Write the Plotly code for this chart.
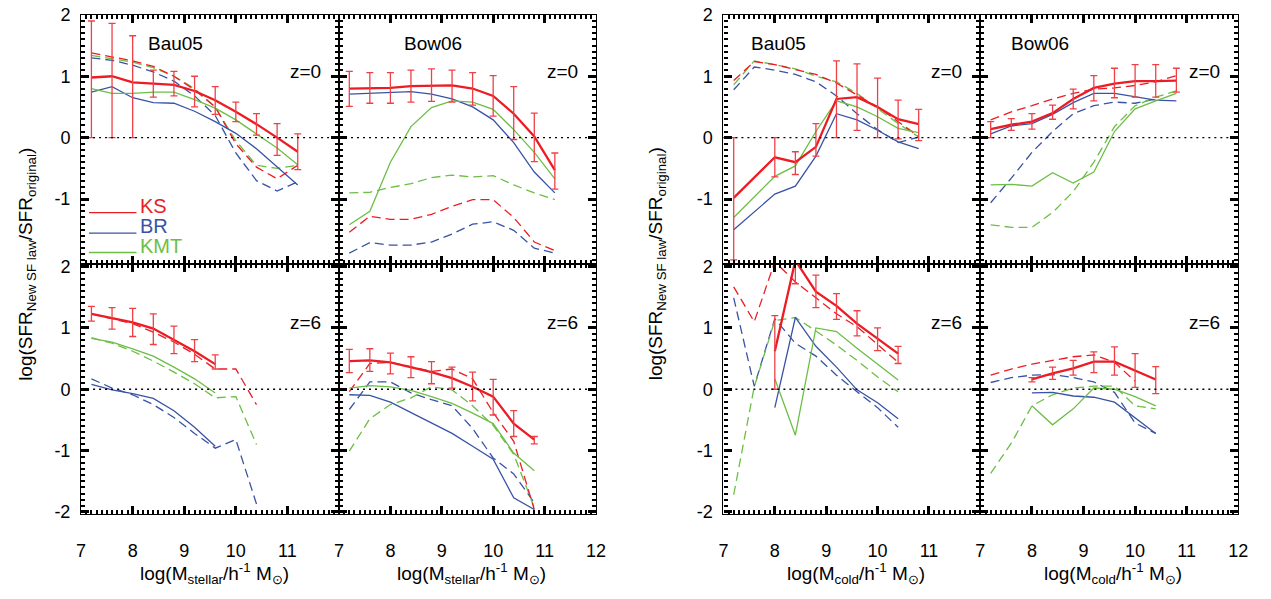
import plotly.graph_objects as go

# ---------------- data ----------------
mass_bins = [7.2, 7.6, 8.0, 8.4, 8.8, 9.2, 9.6, 10.0, 10.4, 10.8, 11.2]
x_ticks = [7, 8, 9, 10, 11, 12]
y_ticks = [-2, -1, 0, 1, 2]

# Panel 1: Bau05, z=0, stellar mass
p1_ks = [0.98, 1.0, 0.9, 0.88, 0.86, 0.76, 0.61, 0.42, 0.22, 0.0, -0.23]
p1_ks_hi = [1.9, 1.86, 1.66, 1.1, 1.08, 1.0, 0.83, 0.58, 0.39, 0.23, 0.06]
p1_ks_lo = [0.0, 0.0, 0.0, 0.66, 0.68, 0.5, 0.38, 0.26, 0.04, -0.29, -0.52]
p1_br = [0.74, 0.83, 0.65, 0.57, 0.56, 0.43, 0.26, 0.07, -0.18, -0.47, -0.77]
p1_kmt = [0.8, 0.72, 0.72, 0.74, 0.74, 0.62, 0.48, 0.29, 0.06, -0.17, -0.44]
p1_ks_d = [1.38, 1.31, 1.25, 1.16, 1.0, 0.78, 0.5, -0.1, -0.48, -0.67, -0.45]
p1_br_d = [1.3, 1.26, 1.18, 1.07, 0.92, 0.68, 0.36, -0.25, -0.7, -0.87, -0.72]
p1_kmt_d = [1.34, 1.28, 1.23, 1.14, 1.0, 0.8, 0.5, -0.05, -0.45, -0.5, -0.45]

# Panel 2: Bow06, z=0, stellar mass
p2_ks = [0.8, 0.81, 0.81, 0.84, 0.85, 0.85, 0.8, 0.68, 0.39, 0.02, -0.53]
p2_ks_hi = [1.08, 1.06, 1.06, 1.1, 1.12, 1.1, 1.06, 1.01, 0.83, 0.4, -0.25]
p2_ks_lo = [0.51, 0.56, 0.56, 0.58, 0.59, 0.58, 0.53, 0.35, -0.03, -0.39, -0.84]
p2_br = [0.71, 0.72, 0.73, 0.75, 0.71, 0.63, 0.5, 0.29, -0.08, -0.56, -0.9]
p2_kmt = [-1.42, -1.2, -0.4, 0.18, 0.49, 0.6, 0.58, 0.46, 0.13, -0.24, -0.67]
p2_ks_d = [-1.54, -1.28, -1.33, -1.33, -1.25, -1.12, -1.01, -1.01, -1.3, -1.7, -1.84]
p2_br_d = [-1.88, -1.71, -1.75, -1.75, -1.7, -1.57, -1.41, -1.37, -1.51, -1.8, -1.88]
p2_kmt_d = [-0.9, -0.89, -0.81, -0.75, -0.65, -0.61, -0.64, -0.62, -0.77, -0.9, -1.01]

# Panel 3: Bau05, z=6, stellar mass
p3_ks = [1.23, 1.16, 1.09, 0.99, 0.81, 0.62, 0.41, None, None, None, None]
p3_ks_hi = [1.35, 1.33, 1.32, 1.23, 1.03, 0.81, 0.56, None, None, None, None]
p3_ks_lo = [1.11, 0.98, 0.86, 0.73, 0.58, 0.45, 0.33, None, None, None, None]
p3_br = [0.08, -0.01, -0.07, -0.15, -0.35, -0.62, -0.93, None, None, None, None]
p3_kmt = [0.83, 0.77, 0.66, 0.54, 0.36, 0.17, -0.06, None, None, None, None]
p3_ks_d = [1.23, 1.15, 1.07, 0.93, 0.77, 0.57, 0.33, 0.33, -0.25, None, None]
p3_br_d = [0.17, 0.02, -0.09, -0.25, -0.46, -0.72, -0.96, -0.82, -1.87, None, None]
p3_kmt_d = [0.84, 0.75, 0.62, 0.46, 0.28, 0.09, -0.14, -0.12, -0.9, None, None]

# Panel 4: Bow06, z=6, stellar mass
p4_ks = [0.46, 0.47, 0.44, 0.36, 0.28, 0.18, 0.04, -0.12, -0.56, -0.82, None]
p4_ks_hi = [0.65, 0.66, 0.59, 0.53, 0.45, 0.36, 0.28, 0.16, -0.35, -0.77, None]
p4_ks_lo = [0.27, 0.29, 0.25, 0.19, 0.09, 0.02, -0.19, -0.42, -0.77, -0.89, None]
p4_br = [-0.09, -0.1, -0.21, -0.38, -0.55, -0.72, -0.93, -1.14, -1.77, -1.96, None]
p4_kmt = [0.02, 0.06, 0.04, -0.02, -0.12, -0.23, -0.39, -0.56, -1.04, -1.33, None]
p4_ks_d = [-0.04, 0.42, 0.44, 0.36, 0.29, 0.33, 0.17, -0.38, -0.85, -1.96, None]
p4_br_d = [-0.33, 0.12, 0.12, -0.06, -0.17, -0.27, -0.64, -1.12, -1.38, -1.85, None]
p4_kmt_d = [-1.01, -0.48, -0.25, -0.14, 0.04, -0.01, -0.27, -0.59, -1.06, -1.93, None]

# Panel 5: Bau05, z=0, cold gas mass
p5_ks = [-0.98, None, -0.32, -0.4, -0.15, 0.63, 0.66, 0.5, 0.3, 0.22, None]
p5_ks_hi = [0.0, None, 0.0, -0.23, 0.23, 1.25, 1.2, 0.97, 0.61, 0.46, None]
p5_ks_lo = [-1.99, None, -0.64, -0.6, -0.3, 0.0, 0.12, 0.0, -0.02, -0.05, None]
p5_br = [-1.5, None, -0.92, -0.79, -0.3, 0.39, 0.29, 0.12, -0.07, -0.18, None]
p5_kmt = [-1.3, None, -0.63, -0.46, 0.1, 0.6, 0.5, 0.34, 0.15, 0.08, None]
p5_ks_d = [0.93, 1.24, 1.19, 1.11, 1.03, 0.89, 0.7, 0.5, 0.26, 0.02, None]
p5_br_d = [0.78, 1.15, 1.1, 1.03, 0.91, 0.68, 0.39, 0.13, -0.08, 0.01, None]
p5_kmt_d = [0.86, 1.25, 1.19, 1.12, 1.0, 0.91, 0.72, 0.47, 0.23, 0.01, None]

# Panel 6: Bow06, z=0, cold gas mass
p6_ks = [0.14, 0.21, 0.26, 0.4, 0.63, 0.81, 0.88, 0.92, 0.92, 0.93, None]
p6_ks_hi = [0.26, 0.31, 0.39, 0.53, 0.79, 1.01, 1.13, 1.19, 1.19, 1.13, None]
p6_ks_lo = [0.0, 0.12, 0.14, 0.3, 0.47, 0.6, 0.65, 0.66, 0.66, 0.74, None]
p6_br = [0.06, 0.19, 0.23, 0.38, 0.57, 0.72, 0.72, 0.67, 0.61, 0.6, None]
p6_kmt = [-0.77, -0.76, -0.79, -0.57, -0.74, -0.56, 0.1, 0.47, 0.6, 0.72, None]
p6_ks_d = [0.29, 0.42, 0.52, 0.63, 0.72, 0.79, 0.81, 0.85, 0.91, 1.01, None]
p6_br_d = [-1.06, -0.66, -0.24, 0.1, 0.39, 0.52, 0.58, 0.56, 0.63, None, None]
p6_kmt_d = [-1.42, -1.46, -1.46, -1.22, -0.88, -0.4, 0.18, 0.52, 0.66, 0.76, None]

# Panel 7: Bau05, z=6, cold gas mass
p7_ks = [None, None, 0.62, 2.1, 1.59, 1.36, 1.07, 0.83, 0.58, None, None]
p7_ks_hi = [None, None, 1.2, 2.4, 1.86, 1.56, 1.28, 1.0, 0.7, None, None]
p7_ks_lo = [None, None, 0.0, 1.72, 1.33, 1.14, 0.87, 0.63, 0.42, None, None]
p7_br = [None, None, -0.3, 1.17, 0.7, 0.36, -0.01, -0.22, -0.48, None, None]
p7_kmt = [None, None, 0.17, -0.75, 1.0, 0.94, 0.67, 0.41, 0.15, None, None]
p7_ks_d = [1.67, 1.1, 2.08, 1.75, 1.49, 1.23, 1.02, 0.73, 0.44, None, None]
p7_br_d = [1.49, 0.05, 1.15, 0.75, 0.54, 0.23, -0.04, -0.3, -0.62, None, None]
p7_kmt_d = [-1.72, 0.04, 1.12, 1.17, 0.95, 0.72, 0.47, 0.2, -0.04, None, None]

# Panel 8: Bow06, z=6, cold gas mass
p8_ks = [None, None, 0.16, 0.26, 0.34, 0.45, 0.45, 0.31, 0.16, None, None]
p8_ks_hi = [None, None, 0.19, 0.36, 0.47, 0.61, 0.69, 0.58, 0.37, None, None]
p8_ks_lo = [None, None, 0.12, 0.16, 0.23, 0.27, 0.23, 0.03, -0.07, None, None]
p8_br = [None, None, -0.06, -0.05, -0.11, -0.13, -0.21, -0.46, -0.72, None, None]
p8_kmt = [None, None, -0.27, -0.58, -0.32, 0.02, 0.0, -0.12, -0.27, None, None]
p8_ks_d = [0.23, 0.33, 0.41, 0.47, 0.53, 0.56, 0.44, 0.13, None, None, None]
p8_br_d = [0.11, 0.19, 0.23, 0.24, 0.19, 0.12, -0.05, -0.55, -0.72, None, None]
p8_kmt_d = [-1.37, -0.88, -0.27, -0.09, 0.02, 0.05, 0.05, -0.27, -0.32, None, None]

panel_models = ["Bau05", "Bow06", "", "", "Bau05", "Bow06", "", ""]
panel_z = ["z=0", "z=0", "z=6", "z=6", "z=0", "z=0", "z=6", "z=6"]
legend_names = ["KS", "BR", "KMT"]

# ---------------- style ----------------
W, H = 1271, 599
RED = "#EC1C24"
BLUE = "#3953A4"
GREEN = "#6CBE45"
ERRC = "#EF4046"
FONT = "Liberation Sans, Arial, Helvetica, sans-serif"
DASH = "9px,5px"

col_px = [(77, 338), (338, 598), (727, 987), (987, 1248)]
row_px = [(5, 262), (262, 520)]
panel_pos = {1: (0, 0), 2: (1, 0), 3: (0, 1), 4: (1, 1),
             5: (2, 0), 6: (3, 0), 7: (2, 1), 8: (3, 1)}
yranges = {0: [-2.06, 2.0], 1: [-2.04, 2.04]}

fig = go.Figure()

panels = {
    1: (p1_ks, p1_ks_hi, p1_ks_lo, p1_br, p1_kmt, p1_ks_d, p1_br_d, p1_kmt_d),
    2: (p2_ks, p2_ks_hi, p2_ks_lo, p2_br, p2_kmt, p2_ks_d, p2_br_d, p2_kmt_d),
    3: (p3_ks, p3_ks_hi, p3_ks_lo, p3_br, p3_kmt, p3_ks_d, p3_br_d, p3_kmt_d),
    4: (p4_ks, p4_ks_hi, p4_ks_lo, p4_br, p4_kmt, p4_ks_d, p4_br_d, p4_kmt_d),
    5: (p5_ks, p5_ks_hi, p5_ks_lo, p5_br, p5_kmt, p5_ks_d, p5_br_d, p5_kmt_d),
    6: (p6_ks, p6_ks_hi, p6_ks_lo, p6_br, p6_kmt, p6_ks_d, p6_br_d, p6_kmt_d),
    7: (p7_ks, p7_ks_hi, p7_ks_lo, p7_br, p7_kmt, p7_ks_d, p7_br_d, p7_kmt_d),
    8: (p8_ks, p8_ks_hi, p8_ks_lo, p8_br, p8_kmt, p8_ks_d, p8_br_d, p8_kmt_d),
}

annotations = []
shapes = []

for n, (ks, hi, lo, br, kmt, ks_d, br_d, kmt_d) in panels.items():
    xa = "x" if n == 1 else f"x{n}"
    ya = "y" if n == 1 else f"y{n}"
    common = dict(x=mass_bins, xaxis=xa, yaxis=ya, mode="lines",
                  showlegend=False, connectgaps=True, hoverinfo="skip")
    fig.add_trace(go.Scatter(y=br_d, line=dict(color=BLUE, width=1.3, dash=DASH), **common))
    fig.add_trace(go.Scatter(y=kmt_d, line=dict(color=GREEN, width=1.3, dash=DASH), **common))
    fig.add_trace(go.Scatter(y=ks_d, line=dict(color=RED, width=1.3, dash=DASH), **common))
    fig.add_trace(go.Scatter(y=br, line=dict(color=BLUE, width=1.3), **common))
    fig.add_trace(go.Scatter(y=kmt, line=dict(color=GREEN, width=1.3), **common))
    fig.add_trace(go.Scatter(y=ks, line=dict(color=RED, width=2.3), **common))
    ex, ey, eup, edn = [], [], [], []
    for xv, yv, h, l in zip(mass_bins, ks, hi, lo):
        if yv is None or h is None or l is None:
            continue
        ex.append(xv); ey.append(yv); eup.append(h - yv); edn.append(yv - l)
    fig.add_trace(go.Scatter(
        x=ex, y=ey, xaxis=xa, yaxis=ya, mode="markers",
        marker=dict(size=1, color="rgba(0,0,0,0)"), showlegend=False, hoverinfo="skip",
        error_y=dict(type="data", symmetric=False, array=eup, arrayminus=edn,
                     color=ERRC, thickness=1.3, width=3.5)))

    c, r = panel_pos[n]
    x0, x1 = col_px[c]
    y0, y1 = row_px[r]
    left_col = c in (0, 2)
    bottom_row = r == 1

    xvals = x_ticks[:-1] if left_col else x_ticks
    yvals = y_ticks if bottom_row else y_ticks[1:]
    ax_common = dict(ticks="inside", ticklen=8, tickwidth=2.5, tickcolor="black",
                     showline=True, linecolor="black", linewidth=1.2,
                     mirror="allticks", showgrid=False, zeroline=False,
                     tickfont=dict(family=FONT, size=18, color="black"))
    minor = dict(ticks="inside", ticklen=4, dtick=0.1, tick0=0, tickcolor="black",
                 tickwidth=1.8, showgrid=False)
    xaxis = dict(domain=[x0 / W, x1 / W], range=[7, 12], anchor=ya,
                 tickmode="array", tickvals=xvals, ticktext=[str(v) for v in xvals],
                 showticklabels=bottom_row, ticklabelstandoff=20, minor=minor, **ax_common)
    yaxis = dict(domain=[1 - y1 / H, 1 - y0 / H], range=yranges[r], anchor=xa,
                 tickmode="array", tickvals=yvals, ticktext=[str(v) for v in yvals],
                 showticklabels=left_col, ticklabelstandoff=6, minor=minor, **ax_common)
    key = "" if n == 1 else str(n)
    fig.update_layout(**{f"xaxis{key}": xaxis, f"yaxis{key}": yaxis})

    shapes.append(dict(type="line", xref=f"{xa} domain", yref=ya, x0=0, x1=1, y0=0, y1=0,
                       line=dict(color="black", width=1.4, dash="2px,4px"), layer="above"))

    if panel_models[n - 1]:
        mx = {1: 173, 2: 433, 5: 783, 6: 1047}[n]
        annotations.append(dict(text=panel_models[n - 1], x=mx / W, y=1 - 35 / H,
                                xref="paper", yref="paper", showarrow=False,
                                font=dict(family=FONT, size=19, color="black"),
                                xanchor="center", yanchor="middle"))
    zx = x0 + 0.87 * (x1 - x0)
    zy = 63 if r == 0 else 322
    annotations.append(dict(text=panel_z[n - 1], x=zx / W, y=1 - zy / H,
                            xref="paper", yref="paper", showarrow=False,
                            font=dict(family=FONT, size=19, color="black"),
                            xanchor="center", yanchor="middle"))

leg_colors = [RED, BLUE, GREEN]
leg_line_y = [209, 230, 250]
for name, col, ly in zip(legend_names, leg_colors, leg_line_y):
    shapes.append(dict(type="line", xref="paper", yref="paper",
                       x0=85 / W, x1=133 / W, y0=1 - ly / H, y1=1 - ly / H,
                       line=dict(color=col, width=1.3)))
    annotations.append(dict(text=name, x=135 / W, y=1 - (ly - 7) / H, xref="paper", yref="paper",
                            showarrow=False, xanchor="left", yanchor="middle",
                            font=dict(family=FONT, size=20, color=col)))

ytitle = "log(SFR<sub>New SF law</sub>/SFR<sub>original</sub>)"
for xpx in (22, 660):
    annotations.append(dict(text=ytitle, x=xpx / W, y=1 - 262 / H, xref="paper", yref="paper",
                            showarrow=False, textangle=-90, xanchor="center", yanchor="middle",
                            font=dict(family=FONT, size=19, color="black")))
xt_stellar = "log(M<sub>stellar</sub>/h<sup>-1</sup> M<sub>⊙</sub>)"
xt_cold = "log(M<sub>cold</sub>/h<sup>-1</sup> M<sub>⊙</sub>)"
for (x0, x1), txt in zip(col_px, [xt_stellar, xt_stellar, xt_cold, xt_cold]):
    annotations.append(dict(text=txt, x=((x0 + x1) / 2 + 4) / W, y=1 - 581 / H,
                            xref="paper", yref="paper", showarrow=False,
                            xanchor="center", yanchor="middle",
                            font=dict(family=FONT, size=19, color="black")))

fig.update_layout(width=W, height=H, margin=dict(l=0, r=0, t=0, b=0),
                  paper_bgcolor="white", plot_bgcolor="white",
                  annotations=annotations, shapes=shapes, showlegend=False)

fig.write_html("out.html")
